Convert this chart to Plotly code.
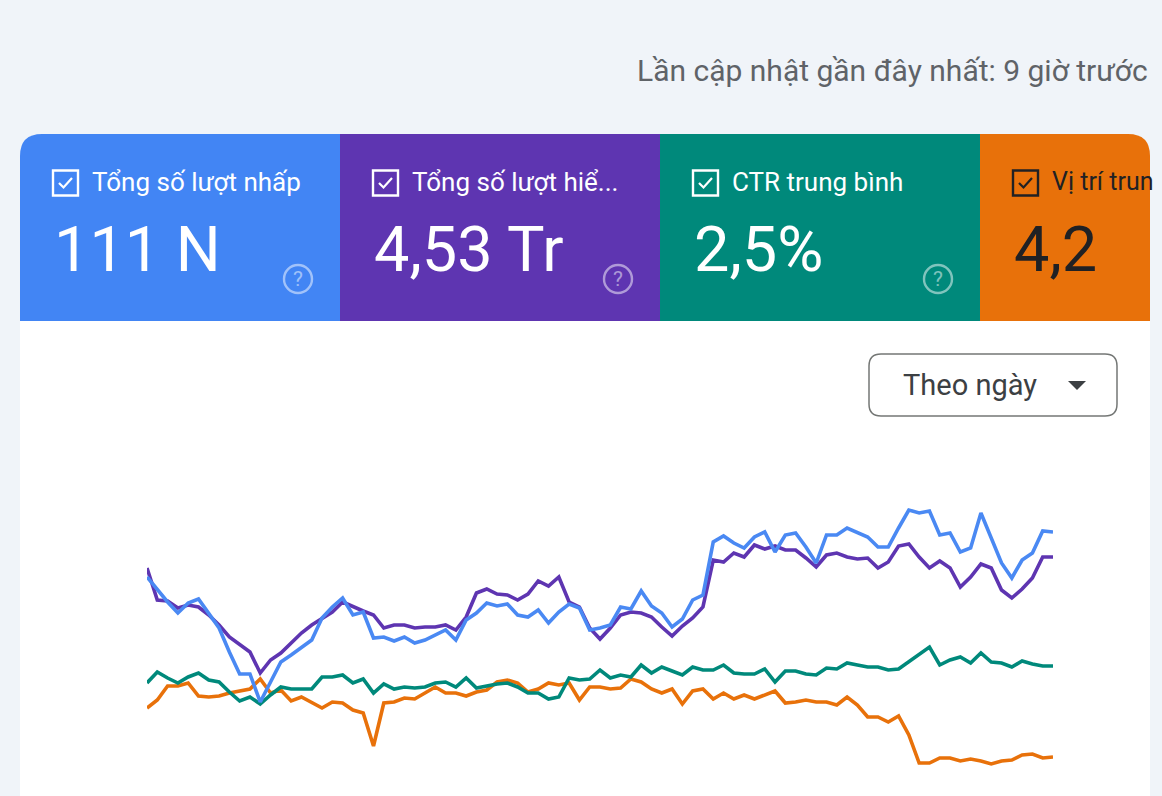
import pandas as pd
import plotly.graph_objects as go

W, H = 1162, 796

# ---- data (relative chart heights, 89 days) ----
dates = pd.date_range("2024-01-01", periods=89, freq="D")

clicks = [223, 210, 198, 187, 197, 201, 187, 172, 148, 126, 126, 98, 118, 138, 145, 153, 160, 182, 193,
          202, 185, 188, 162, 163, 159, 163, 157, 160, 165, 170, 160, 180, 187, 197, 194, 196, 185,
          183, 190, 177, 188, 196, 192, 170, 172, 175, 193, 191, 209, 194, 187, 173, 181, 200, 205,
          258, 264, 257, 252, 263, 268, 248, 265, 267, 253, 237, 265, 265, 272, 267, 263, 253, 253,
          272, 290, 287, 289, 265, 267, 248, 252, 287, 263, 237, 222, 240, 247, 269, 268]

impressions = [232, 200, 199, 192, 195, 193, 185, 175, 163, 155, 148, 127, 140, 147, 157, 167, 175, 182, 188,
               198, 193, 189, 185, 172, 175, 175, 172, 173, 173, 175, 170, 183, 207, 211, 206, 205, 200,
               206, 219, 214, 223, 198, 193, 172, 161, 172, 185, 188, 187, 183, 173, 164, 174, 182, 193,
               240, 238, 247, 243, 255, 251, 254, 250, 250, 242, 233, 245, 247, 243, 241, 242, 232, 238,
               254, 256, 243, 232, 239, 232, 213, 223, 236, 232, 210, 202, 211, 222, 243, 243]

ctr = [117, 128, 122, 117, 123, 127, 120, 118, 108, 99, 103, 96, 105, 113, 111, 111, 111, 123, 123,
       125, 117, 121, 107, 116, 111, 113, 112, 113, 117, 118, 113, 122, 112, 114, 116, 117, 113,
       107, 107, 101, 103, 122, 120, 121, 130, 122, 125, 123, 135, 127, 133, 129, 125, 133, 130,
       130, 135, 127, 126, 126, 131, 118, 129, 129, 126, 125, 132, 131, 137, 135, 133, 133, 130,
       131, 138, 146, 153, 135, 140, 143, 137, 147, 138, 137, 133, 139, 136, 134, 134]

position = [92, 100, 114, 114, 117, 104, 103, 104, 107, 109, 111, 121, 107, 110, 99, 103, 97, 92, 98,
            97, 90, 87, 54, 97, 98, 102, 101, 107, 113, 107, 107, 104, 108, 110, 118, 120, 117,
            108, 111, 117, 115, 117, 100, 113, 113, 111, 112, 121, 118, 111, 107, 111, 96, 109, 111,
            101, 107, 101, 105, 101, 105, 109, 97, 98, 100, 98, 98, 95, 103, 95, 83, 83, 78,
            84, 65, 37, 37, 42, 42, 39, 41, 39, 36, 39, 40, 45, 46, 42, 43]

card_titles = ["Tổng số lượt nhấp", "Tổng số lượt hiể...", "CTR trung bình", "Vị trí trun"]
card_values = ["111 N", "4,53 Tr", "2,5%", "4,2"]
card_colors = ["#4285f4", "#5e35b1", "#00897b", "#e8710a"]
line_colors = ["#4a89f3", "#5e35b1", "#00897b", "#e8710a"]
card_text_colors = ["#ffffff", "#ffffff", "#ffffff", "#202124"]

BG = "#f0f4f9"


def px(x):
    return x / W


def py(y):
    return 1 - y / H


def path(points, close=True):
    s = ""
    for i, (x, y) in enumerate(points):
        s += ("M" if i == 0 else "L") + f"{px(x):.5f},{py(y):.5f} "
    return s + ("Z" if close else "")


fig = go.Figure()

series = [("Vị trí trung bình", position, 3), ("CTR trung bình", ctr, 2),
          ("Tổng số lượt hiển thị", impressions, 1), ("Tổng số lượt nhấp", clicks, 0)]
for name, vals, ci in series:
    fig.add_trace(go.Scatter(x=dates, y=vals, mode="lines", name=name,
                             line=dict(color=line_colors[ci], width=3.6),
                             hoverinfo="skip"))

shapes = []
annotations = []

# white chart card
shapes.append(dict(type="rect", xref="paper", yref="paper", x0=px(20), x1=px(1150),
                   y0=py(800), y1=py(321), fillcolor="#ffffff", line=dict(width=0), layer="below"))

# metric cards
R = 22
card_x = [20, 340, 660, 980]
card_w = [320, 320, 320, 170]
top, bot = 134, 321
for i in range(4):
    x0, x1 = card_x[i], card_x[i] + card_w[i]
    if i == 0:
        d = (f"M{px(x0)},{py(bot)} L{px(x0)},{py(top + R)} "
             f"Q{px(x0)},{py(top)} {px(x0 + R)},{py(top)} "
             f"L{px(x1)},{py(top)} L{px(x1)},{py(bot)} Z")
    elif i == 3:
        d = (f"M{px(x0)},{py(bot)} L{px(x0)},{py(top)} L{px(x1 - R)},{py(top)} "
             f"Q{px(x1)},{py(top)} {px(x1)},{py(top + R)} "
             f"L{px(x1)},{py(bot)} Z")
    else:
        d = path([(x0, bot), (x0, top), (x1, top), (x1, bot)])
    shapes.append(dict(type="path", xref="paper", yref="paper", path=d,
                       fillcolor=card_colors[i], line=dict(width=0), layer="below"))

    tc = card_text_colors[i]
    bx = x0 + 33
    # checkbox
    shapes.append(dict(type="rect", xref="paper", yref="paper", x0=px(bx), x1=px(bx + 25),
                       y0=py(195.5), y1=py(170.5), line=dict(color=tc, width=2.4),
                       fillcolor="rgba(0,0,0,0)", layer="above"))
    shapes.append(dict(type="path", xref="paper", yref="paper",
                       path=path([(bx + 6, 183), (bx + 10.5, 187.5), (bx + 19, 178)], close=False),
                       line=dict(color=tc, width=2.2), layer="above"))
    annotations.append(dict(x=px(bx + 37), y=py(182), xref="paper", yref="paper",
                            text=card_titles[i], showarrow=False, xanchor="left",
                            yanchor="middle",
                            font=dict(family="Roboto", size=26 if i < 3 else 25, color=tc)))
    annotations.append(dict(x=px(bx - 1), y=py(249), xref="paper", yref="paper",
                            text=card_values[i], showarrow=False, xanchor="left",
                            yanchor="middle", font=dict(family="Roboto", size=63, color=tc)))
    if i < 3:
        cx, cy = x0 + 278, 279
        qc = "rgba(255,255,255,0.5)"
        shapes.append(dict(type="circle", xref="paper", yref="paper",
                           x0=px(cx - 14), x1=px(cx + 14), y0=py(cy + 14), y1=py(cy - 14),
                           line=dict(color=qc, width=2.4), layer="above"))
        annotations.append(dict(x=px(cx), y=py(cy), xref="paper", yref="paper", text="?",
                                showarrow=False, xanchor="center", yanchor="middle",
                                font=dict(family="Roboto", size=21, color=qc)))

# last update text
annotations.append(dict(x=px(1150), y=py(70), xref="paper", yref="paper",
                        text="Lần cập nhật gần đây nhất: 9 giờ trước", showarrow=False,
                        xanchor="right", yanchor="middle",
                        font=dict(family="Roboto", size=30, color="#5f6368")))

# dropdown
r = 12
x0, x1, y0, y1 = 869, 1117, 354, 416
d = (f"M{px(x0 + r)},{py(y0)} L{px(x1 - r)},{py(y0)} Q{px(x1)},{py(y0)} {px(x1)},{py(y0 + r)} "
     f"L{px(x1)},{py(y1 - r)} Q{px(x1)},{py(y1)} {px(x1 - r)},{py(y1)} "
     f"L{px(x0 + r)},{py(y1)} Q{px(x0)},{py(y1)} {px(x0)},{py(y1 - r)} "
     f"L{px(x0)},{py(y0 + r)} Q{px(x0)},{py(y0)} {px(x0 + r)},{py(y0)} Z")
shapes.append(dict(type="path", xref="paper", yref="paper", path=d,
                   fillcolor="#ffffff", line=dict(color="#747775", width=1.5), layer="above"))
annotations.append(dict(x=px(901), y=py(385), xref="paper", yref="paper", text="Theo ngày",
                        showarrow=False, xanchor="left", yanchor="middle",
                        font=dict(family="Roboto", size=29, color="#3c4043")))
shapes.append(dict(type="path", xref="paper", yref="paper",
                   path=path([(1068, 381), (1086, 381), (1077, 390)]),
                   fillcolor="#3c4043", line=dict(width=0), layer="above"))

fig.update_layout(
    width=W, height=H,
    margin=dict(l=0, r=0, t=0, b=0),
    paper_bgcolor=BG, plot_bgcolor="rgba(0,0,0,0)",
    showlegend=False,
    xaxis=dict(domain=[147 / W, 1053 / W], range=[dates[0], dates[-1]], visible=False,
               fixedrange=True),
    yaxis=dict(domain=[0, 1], range=[4, 800], visible=False, fixedrange=True),
    shapes=shapes, annotations=annotations,
)

fig.write_html("out.html", config={"displayModeBar": False})
